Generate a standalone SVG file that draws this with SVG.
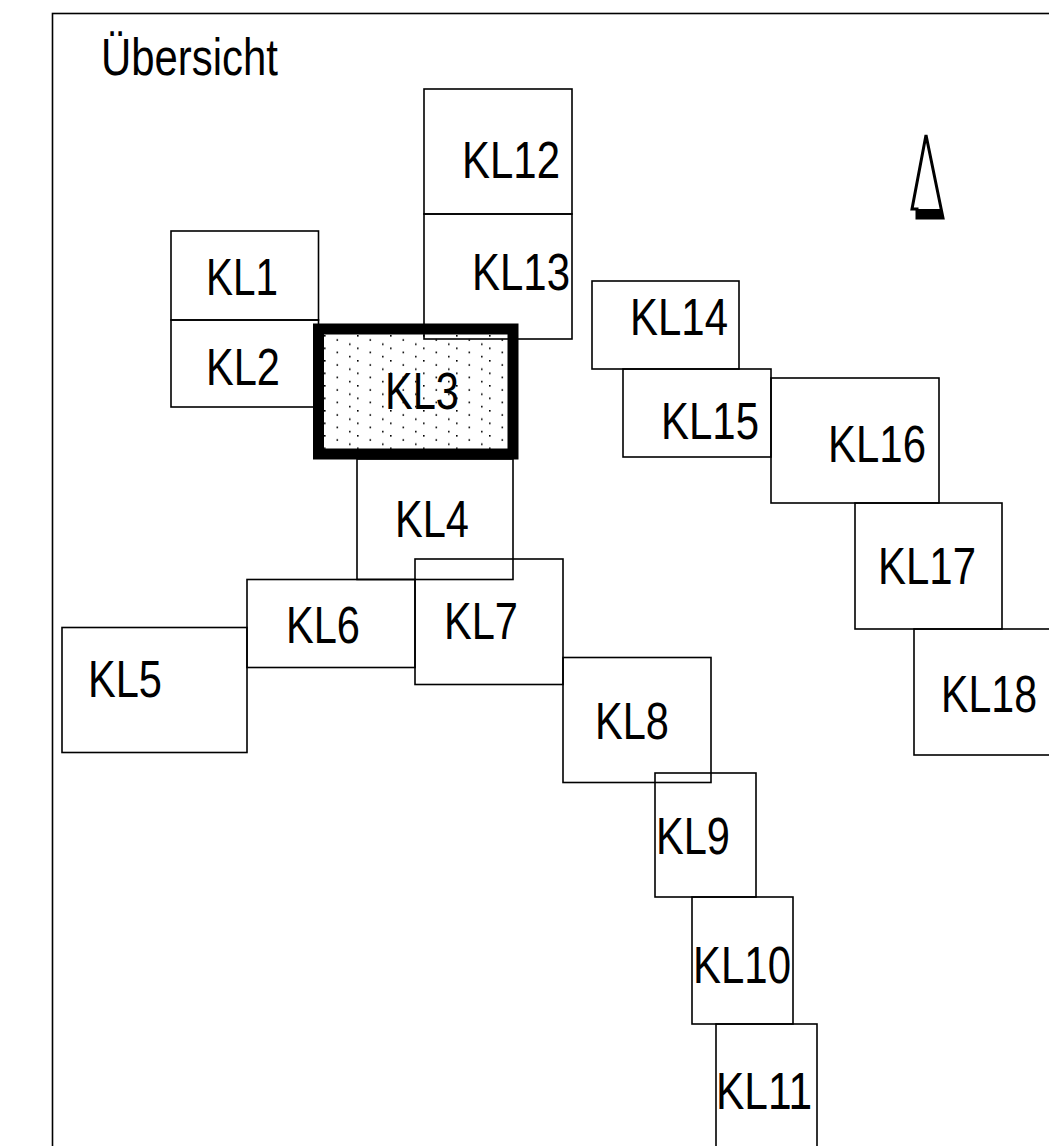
<svg xmlns="http://www.w3.org/2000/svg" width="1049" height="1146" viewBox="0 0 1049 1146">
<style>
.b{fill:none;stroke:#000;stroke-width:1.6}
.t{font-family:"Liberation Sans Narrow","Arial Narrow","Liberation Sans",sans-serif;font-size:52px;fill:#000}
</style>
<defs>
<pattern id="dots" patternUnits="userSpaceOnUse" x="324" y="335" width="33" height="12.5">
<rect x="0" y="0" width="1.6" height="1.6" fill="#000"/>
<rect x="12.5" y="4.2" width="1.6" height="1.6" fill="#000"/>
<rect x="25" y="8.4" width="1.6" height="1.6" fill="#000"/>
</pattern>
</defs>
<rect width="1049" height="1146" fill="#fff"/>
<g id="frame"><rect class="b" x="52.5" y="13.5" width="1100" height="1200"/></g>
<text class="t" x="101" y="75" textLength="177" lengthAdjust="spacingAndGlyphs">Übersicht</text>
<g id="north">
<polygon points="926,135 912,209 917,209 917,218 943,218" fill="#fff" stroke="#000" stroke-width="3" stroke-linejoin="miter"/>
<polygon points="917,209 941,209 943,218 917,218" fill="#000"/>
</g>
<g id="KL1"><rect class="b" x="171" y="231" width="147.5" height="89"/><text class="t" x="206" y="295" textLength="72" lengthAdjust="spacingAndGlyphs">KL1</text></g>
<g id="KL2"><rect class="b" x="171" y="320" width="147.5" height="87"/><text class="t" x="206" y="385" textLength="74" lengthAdjust="spacingAndGlyphs">KL2</text></g>
<g id="KL3"><rect x="318.5" y="329" width="194.5" height="125" fill="url(#dots)" stroke="#000" stroke-width="11"/><text class="t" x="385" y="409" textLength="74" lengthAdjust="spacingAndGlyphs">KL3</text></g>
<g id="KL12"><rect class="b" x="424" y="89" width="148" height="125"/><text class="t" x="462" y="178" textLength="98" lengthAdjust="spacingAndGlyphs">KL12</text></g>
<g id="KL13"><rect class="b" x="424" y="214" width="148" height="125"/><text class="t" x="472" y="290" textLength="98" lengthAdjust="spacingAndGlyphs">KL13</text></g>
<g id="KL4"><rect class="b" x="357" y="459" width="156" height="120.5"/><text class="t" x="395" y="537" textLength="74" lengthAdjust="spacingAndGlyphs">KL4</text></g>
<g id="KL5"><rect class="b" x="62" y="627.5" width="185" height="125"/><text class="t" x="88" y="697" textLength="74" lengthAdjust="spacingAndGlyphs">KL5</text></g>
<g id="KL6"><rect class="b" x="247" y="579.5" width="168" height="88"/><text class="t" x="286" y="643" textLength="74" lengthAdjust="spacingAndGlyphs">KL6</text></g>
<g id="KL7"><rect class="b" x="415" y="559" width="148" height="125.5"/><text class="t" x="444" y="639" textLength="74" lengthAdjust="spacingAndGlyphs">KL7</text></g>
<g id="KL8"><rect class="b" x="563" y="657.5" width="148" height="125"/><text class="t" x="595" y="739" textLength="74" lengthAdjust="spacingAndGlyphs">KL8</text></g>
<g id="KL9"><rect class="b" x="655" y="773" width="101" height="124"/><text class="t" x="656" y="854" textLength="74" lengthAdjust="spacingAndGlyphs">KL9</text></g>
<g id="KL10"><rect class="b" x="692" y="897" width="101" height="127"/><text class="t" x="693" y="983" textLength="98" lengthAdjust="spacingAndGlyphs">KL10</text></g>
<g id="KL11"><rect class="b" x="716" y="1024" width="101" height="140"/><text class="t" x="716" y="1109" textLength="96" lengthAdjust="spacingAndGlyphs">KL11</text></g>
<g id="KL14"><rect class="b" x="592" y="281" width="147" height="88"/><text class="t" x="630" y="335" textLength="98" lengthAdjust="spacingAndGlyphs">KL14</text></g>
<g id="KL15"><rect class="b" x="623" y="369" width="148" height="88"/><text class="t" x="661" y="439" textLength="98" lengthAdjust="spacingAndGlyphs">KL15</text></g>
<g id="KL16"><rect class="b" x="771" y="378" width="168" height="125"/><text class="t" x="828" y="462" textLength="98" lengthAdjust="spacingAndGlyphs">KL16</text></g>
<g id="KL17"><rect class="b" x="855" y="503" width="147" height="126"/><text class="t" x="878" y="584" textLength="98" lengthAdjust="spacingAndGlyphs">KL17</text></g>
<g id="KL18"><rect class="b" x="914" y="629" width="160" height="126"/><text class="t" x="941" y="712" textLength="96" lengthAdjust="spacingAndGlyphs">KL18</text></g>
<g id="connectors"/>
</svg>
